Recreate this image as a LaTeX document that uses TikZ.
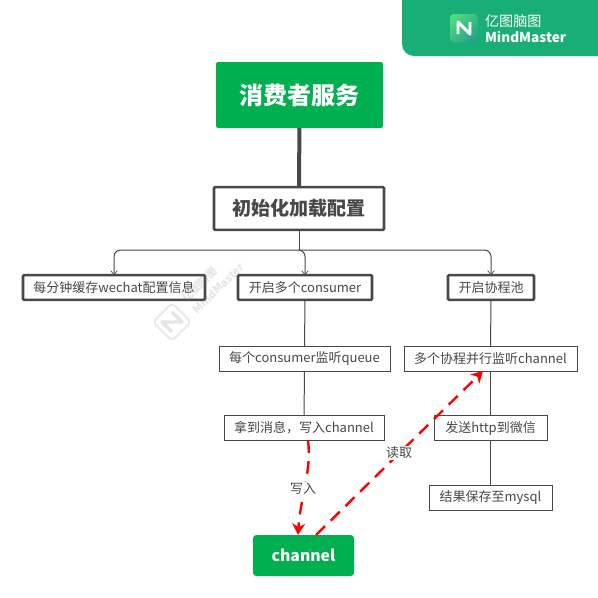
\documentclass[tikz,border=0pt]{standalone}
\usepackage{fontspec}
\setmainfont{Noto Sans CJK SC}
\usetikzlibrary{arrows.meta,calc,shadings}
\definecolor{gbox}{HTML}{00B050}
\definecolor{badge}{HTML}{19AE78}
\definecolor{ink}{HTML}{484848}
\definecolor{logoa}{HTML}{56E27A}
\definecolor{logob}{HTML}{1E9A8C}
\tikzset{
  x=0.75pt,y=-0.75pt,
  every node/.style={inner sep=0pt,outer sep=0pt,align=center,text=ink},
  greenbox/.style={fill=gbox,rounded corners=1.5pt,text=white,font=\bfseries},
  midbox/.style={draw=ink,line width=1.9pt,fill=white,rounded corners=0.8pt,font=\fontsize{9.75}{11}\selectfont},
  plainbox/.style={draw=ink,line width=0.75pt,fill=white,font=\fontsize{9.75}{11}\selectfont},
  link/.style={draw=ink,line width=0.75pt},
  branch/.style={link,rounded corners=5pt,-{Straight Barb[length=3pt,width=5pt,line width=0.5pt]}},
  redlink/.style={draw=red,line width=1.8pt,dash pattern=on 9.5pt off 6pt,-{Stealth[length=8.5pt,width=9.5pt,inset=2.5pt]}},
  tag/.style={fill=white,font=\fontsize{9.75}{11}\selectfont,inner sep=1pt},
  wmark/.style={draw=gray,opacity=0.2},
  wmtext/.style={text=gray,text opacity=0.2,rotate=45},
}
\begin{document}
\begin{tikzpicture}
\useasboundingbox (0,0) rectangle (598,597);
% badge
\fill[badge] (402,0) -- (598,0) -- (598,56) -- (414,56) arc[start angle=90,end angle=180,radius=12] -- cycle;
\shade[upper left=logoa,lower right=logob,upper right=logoa!50!logob,lower left=logoa!50!logob,rounded corners=3pt] (450,14) rectangle (478,42);
\draw[white,line width=2.2pt,line join=round] (458,34) -- (458,22) -- (470,34) -- (470,22);
\node[text=white,anchor=west,font=\fontsize{10.6}{12}\selectfont] (badgecn) at (485,21) {亿图脑图};
\node[text=white,anchor=west,font=\fontsize{10.2}{12}\selectfont\bfseries] (badgeen) at (485,36.5) {MindMaster};
% nodes
\node[greenbox,minimum width=125.25pt,minimum height=49.5pt,font=\fontsize{18}{20}\selectfont\bfseries] (root) at (299.5,95) {消费者服务};
\node[midbox,minimum width=127.5pt,minimum height=32pt,font=\fontsize{14.3}{16}\selectfont\bfseries] (init) at (299,208.5) {初始化加载配置};
\node[midbox,minimum width=136.5pt,minimum height=18.5pt] (cache) at (114,287.5) {每分钟缓存wechat配置信息};
\node[midbox,minimum width=100.5pt,minimum height=18.5pt] (multi) at (305,287.5) {开启多个consumer};
\node[midbox,minimum width=64.5pt,minimum height=18.5pt] (pool) at (491,287.5) {开启协程池};
\node[plainbox,minimum width=128.25pt,minimum height=18.75pt] (listen) at (304.5,358.5) {每个consumer监听queue};
\node[plainbox,minimum width=129.75pt,minimum height=18.75pt] (par) at (490.5,358.5) {多个协程并行监听channel};
\node[plainbox,minimum width=120pt,minimum height=18.75pt] (get) at (304,428) {拿到消息，写入channel};
\node[plainbox,minimum width=84.75pt,minimum height=18.75pt] (http) at (490.5,428) {发送http到微信};
\node[plainbox,minimum width=92.25pt,minimum height=18.75pt] (save) at (490.5,497.5) {结果保存至mysql};
\node[greenbox,rounded corners=2.5pt,minimum width=75.75pt,minimum height=30.75pt,font=\fontsize{11.8}{13}\selectfont\bfseries] (chan) at (303.5,555.5) {channel};
% connectors
\coordinate (fork) at (init.south |- 0,250);
\draw[ink,line width=3pt] (root) -- (init);
\draw[link] (init.south) -- (fork);
\draw[branch] (fork) -| (cache.north);
\draw[branch] (fork) -| (multi.north);
\draw[branch] (fork) -| (pool.north);
\draw[link] (multi) -- (listen);
\draw[link] (listen) -- (get);
\draw[link] (pool) -- (par);
\draw[link] (par) -- (http);
\draw[link] (http) -- (save);
% red links
\coordinate (wa) at ($(get.south)+(4,0)$);
\coordinate (wb) at ($(chan.north)+(-5.5,0)$);
\coordinate (ra) at ($(chan.north)+(12.5,0)$);
\coordinate (rb) at ($(par.south)+(-7.5,0)$);
\draw[redlink] (wa) .. controls (312,470) and (300,500) .. (wb);
\draw[redlink] (ra) -- (rb);
\node[tag] (wlabel) at (303,489) {写入};
\node[tag] (rlabel) at (399,453) {读取};
% watermark, lying over everything
\begin{scope}[shift={(172,322)}]
\draw[wmark,line width=1.2pt,line join=round,rounded corners=3pt] (0,-19) -- (19,0) -- (0,19) -- (-19,0) -- cycle;
\draw[wmark,line width=2.6pt,line join=round] (0,10) -- (-10,0) -- (10,0) -- (0,-10);
\end{scope}
\node[wmtext,font=\fontsize{8}{9}\selectfont\bfseries] (wmcn) at (200,284.5) {亿图脑图};
\node[wmtext,font=\fontsize{8.4}{9}\selectfont\bfseries] (wmen) at (218,288) {MindMaster};
\end{tikzpicture}
\end{document}
